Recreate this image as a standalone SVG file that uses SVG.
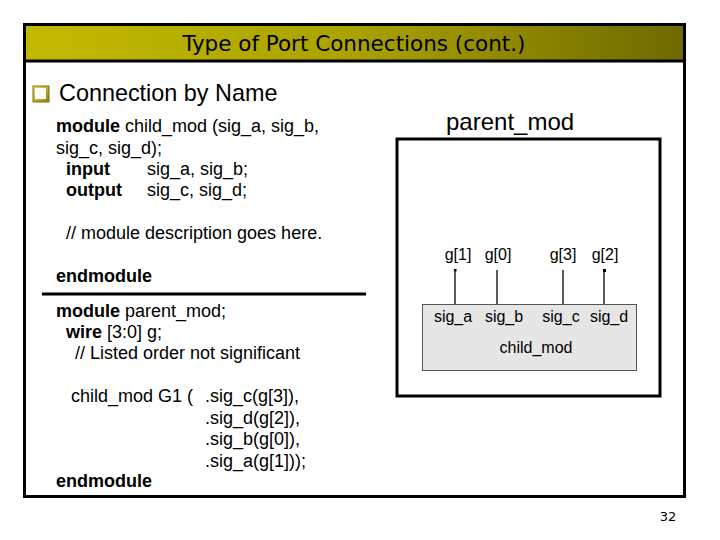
<svg xmlns="http://www.w3.org/2000/svg" width="720" height="540" viewBox="0 0 720 540">
<defs>
<linearGradient id="tg" x1="0" y1="0" x2="1" y2="0">
<stop offset="0" stop-color="#c2ba00"/>
<stop offset="0.5" stop-color="#aaa200"/>
<stop offset="1" stop-color="#6e6a00"/>
</linearGradient>
<linearGradient id="bg" x1="0" y1="0" x2="1" y2="1">
<stop offset="0" stop-color="#e8e070"/>
<stop offset="1" stop-color="#8a8400"/>
</linearGradient>
</defs>
<style>
.code{font-family:"Liberation Sans",Arial,sans-serif;font-size:18px;fill:#000}
.b{font-weight:bold}
.lbl{font-family:"Liberation Sans",Arial,sans-serif;font-size:16px;fill:#000}
.wire{stroke:#000;stroke-width:1.3}
</style>
<rect x="0" y="0" width="720" height="540" fill="#fff"/>
<g id="frame">
<rect x="24.5" y="24.5" width="660" height="472" fill="#fff" stroke="#000" stroke-width="3"/>
<rect x="26" y="26" width="657" height="34" fill="url(#tg)"/>
<line x1="24" y1="61" x2="685" y2="61" stroke="#000" stroke-width="3"/>
<text x="354" y="51" text-anchor="middle" font-family="'DejaVu Sans Condensed','DejaVu Sans',sans-serif" font-size="21" fill="#000" textLength="343" lengthAdjust="spacingAndGlyphs">Type of Port Connections (cont.)</text>
</g>
<g id="bullet">
<rect x="33" y="86" width="16" height="16" fill="url(#bg)" stroke="#7a7400" stroke-width="1"/>
<rect x="35" y="88" width="11" height="11" fill="#fff"/>
<text x="59" y="101" font-family="'Liberation Sans',Arial,sans-serif" font-size="23.4" fill="#000">Connection by Name</text>
</g>
<g id="child-code">
<text class="code" x="56" y="132"><tspan class="b">module</tspan> child_mod (sig_a, sig_b,</text>
<text class="code" x="56" y="154">sig_c, sig_d);</text>
<text class="code b" x="66" y="175">input</text>
<text class="code" x="147" y="175">sig_a, sig_b;</text>
<text class="code b" x="66" y="196">output</text>
<text class="code" x="147" y="196">sig_c, sig_d;</text>
<text class="code" x="66" y="239">// module description goes here.</text>
<text class="code b" x="56" y="282">endmodule</text>
</g>
<line x1="42" y1="294" x2="366" y2="294" stroke="#000" stroke-width="3"/>
<g id="parent-code">
<text class="code" x="56" y="317"><tspan class="b">module</tspan> parent_mod;</text>
<text class="code" x="66" y="338"><tspan class="b">wire</tspan> [3:0] g;</text>
<text class="code" x="75" y="359">// Listed order not significant</text>
<text class="code" x="71" y="402">child_mod G1 (</text>
<text class="code" x="205" y="402">.sig_c(g[3]),</text>
<text class="code" x="205" y="424">.sig_d(g[2]),</text>
<text class="code" x="205" y="445">.sig_b(g[0]),</text>
<text class="code" x="205" y="467">.sig_a(g[1]));</text>
<text class="code b" x="56" y="487">endmodule</text>
</g>
<g id="parent_mod">
<text x="446" y="130" font-family="'Liberation Sans',Arial,sans-serif" font-size="24" fill="#000">parent_mod</text>
<rect x="397" y="139" width="263" height="257" fill="#fff" stroke="#000" stroke-width="3"/>
</g>
<g id="connectors">
<line class="wire" x1="455" y1="270" x2="455" y2="304"/>
<line class="wire" x1="497" y1="270" x2="497" y2="304"/>
<line class="wire" x1="563" y1="270" x2="563" y2="304"/>
<line class="wire" x1="604" y1="270" x2="604" y2="304"/>
<rect x="454" y="269" width="2.5" height="2.5" fill="#000"/>
<rect x="603" y="269" width="3" height="3" fill="#000"/>
</g>
<g id="nets">
<text class="lbl" x="458" y="260" text-anchor="middle">g[1]</text>
<text class="lbl" x="498" y="260" text-anchor="middle">g[0]</text>
<text class="lbl" x="563" y="260" text-anchor="middle">g[3]</text>
<text class="lbl" x="605" y="260" text-anchor="middle">g[2]</text>
</g>
<g id="child_mod">
<rect x="422.5" y="304.5" width="214" height="66" fill="#e6e6e6" stroke="#555" stroke-width="1"/>
<text class="lbl" x="453" y="322" text-anchor="middle">sig_a</text>
<text class="lbl" x="504" y="322" text-anchor="middle">sig_b</text>
<text class="lbl" x="561" y="322" text-anchor="middle">sig_c</text>
<text class="lbl" x="609" y="322" text-anchor="middle">sig_d</text>
<text class="lbl" x="536" y="353" text-anchor="middle">child_mod</text>
</g>
<text x="668" y="521" text-anchor="middle" font-family="'DejaVu Sans',sans-serif" font-size="13" fill="#000">32</text>
</svg>
